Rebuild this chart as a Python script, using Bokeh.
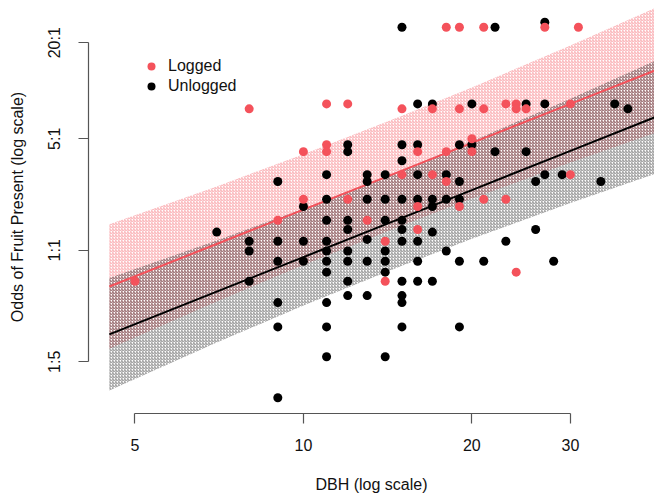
from bokeh.plotting import figure
from bokeh.models import FixedTicker, Legend, LegendItem
from bokeh.embed import file_html
from bokeh.resources import INLINE

# ---------------- data ----------------
logged_dbh = [5, 8, 9, 10, 10, 11, 11, 11, 12, 12, 13, 14, 14, 15, 15, 16, 16, 16,
              17, 17, 18, 18, 18, 19, 19, 19, 20, 20, 21, 21, 21, 23, 23, 24, 24, 24,
              25, 27, 30, 30, 31]
logged_odds = [0.64, 7.7, 1.54, 4.15, 2.09, 8.27, 4.59, 4.15, 8.27, 2.09, 1.54, 1.14, 0.64,
               7.7, 2.98, 4.15, 1.88, 1.35, 7.7, 2.98, 25, 4.15, 2.70, 25, 7.7, 1.88,
               5.0, 4.15, 25, 7.7, 2.09, 8.27, 2.09, 8.27, 7.7, 0.729, 7.7, 25, 8.27, 2.98, 25]

unlogged_dbh = [7, 8, 8, 8, 9, 9, 9, 9, 9, 9, 10, 10, 10,
                11, 11, 11, 11, 11, 11, 11, 11, 11, 11,
                12, 12, 12, 12, 12, 12, 12, 12,
                13, 13, 13, 13, 13, 13,
                14, 14, 14, 14, 14, 14, 14,
                15, 15, 15, 15, 15, 15, 15, 15, 15, 15, 15,
                16, 16, 16, 16, 16, 16, 16,
                17, 17, 17, 17, 17,
                18, 18, 18,
                19, 19, 19, 19, 19,
                20, 20, 21, 22, 22, 23, 25, 25, 26, 26, 27, 27, 27, 28, 29, 34, 36, 38]
unlogged_odds = [1.30, 1.14, 0.99, 0.64, 2.70, 1.14, 0.854, 0.47, 0.331, 0.119, 1.88, 1.14, 0.854,
                 2.98, 2.09, 1.54, 1.14, 0.99, 0.854, 0.729, 0.47, 0.331, 0.215,
                 4.59, 4.15, 1.54, 1.35, 0.99, 0.854, 0.64, 0.52,
                 2.98, 2.70, 2.09, 1.17, 0.854, 0.52,
                 2.98, 2.09, 1.54, 0.99, 0.854, 0.729, 0.215,
                 25, 4.59, 3.64, 2.09, 1.54, 1.35, 1.14, 0.64, 0.52, 0.47, 0.331,
                 8.27, 4.59, 2.98, 2.09, 1.14, 0.854, 0.64,
                 8.27, 2.09, 1.88, 1.30, 0.64,
                 2.98, 2.09, 0.99,
                 4.59, 2.70, 2.09, 0.854, 0.331,
                 8.27, 4.59, 0.854, 25, 4.15, 1.14, 8.27, 4.15, 2.70, 1.35, 26.9, 8.27, 2.98, 0.854, 2.98,
                 2.70, 8.27, 7.7]

# fitted curves and confidence bands (odds)
fit_dbh = [4.5, 7, 10, 15, 20, 30, 43]
logged_fit = [0.593, 1.095, 1.797, 3.156, 4.71, 8.27, 13.63]
logged_upper = [1.457, 2.515, 4.0, 6.96, 10.5, 19.2, 33.6]
logged_lower = [0.241, 0.477, 0.808, 1.431, 2.108, 3.55, 5.52]
unlogged_fit = [0.297, 0.551, 0.906, 1.595, 2.385, 4.20, 6.94]
unlogged_upper = [0.671, 1.151, 1.823, 3.18, 4.83, 8.92, 15.7]
unlogged_lower = [0.132, 0.264, 0.450, 0.799, 1.179, 1.979, 3.06]

x_ticks = [5, 10, 20, 30]
y_ticks = [0.2, 1, 5, 20]
y_tick_labels = ["1:5", "1:1", "5:1", "20:1"]

RED = "#F4525B"
FONT = "Liberation Sans"

p = figure(width=654, height=495, x_axis_type="log", y_axis_type="log",
           x_range=(4.13, 42.4), y_range=(0.0948, 36.8),
           output_backend="svg", toolbar_location=None,
           min_border_left=88, min_border_bottom=80, min_border_top=0, min_border_right=0)
p.outline_line_color = None
p.grid.visible = False
p.background_fill_color = "white"

# bands
p.patch(fit_dbh + fit_dbh[::-1], logged_upper + logged_lower[::-1],
        fill_alpha=0, line_alpha=0, hatch_pattern="/", hatch_color=RED,
        hatch_alpha=0.5, hatch_scale=3, hatch_weight=1)
p.patch(fit_dbh + fit_dbh[::-1], unlogged_upper + unlogged_lower[::-1],
        fill_alpha=0, line_alpha=0, hatch_pattern="/", hatch_color="#1a1a1a",
        hatch_alpha=0.5, hatch_scale=3, hatch_weight=1)

# fit lines
p.line(fit_dbh, logged_fit, line_color=RED, line_width=2)
p.line(fit_dbh, unlogged_fit, line_color="black", line_width=2)

# points
r_black = p.scatter(unlogged_dbh, unlogged_odds, size=9, fill_color="black", line_color=None)
r_red = p.scatter(logged_dbh, logged_odds, size=9, fill_color=RED, line_color=None)

legend = Legend(items=[LegendItem(label="Logged", renderers=[r_red]),
                       LegendItem(label="Unlogged", renderers=[r_black])],
                location=(53, 317), margin=0, padding=0, spacing=0,
                glyph_width=20, glyph_height=20, label_height=20, label_standoff=7,
                label_text_font=FONT, label_text_font_size="16px", label_text_color="#111111",
                border_line_alpha=0, background_fill_alpha=0)
p.add_layout(legend)

for ax in (p.xaxis[0], p.yaxis[0]):
    ax.axis_line_color = "#555555"
    ax.axis_line_width = 1.2
    ax.major_tick_line_color = "#555555"
    ax.major_tick_line_width = 1.2
    ax.major_tick_out = 10
    ax.major_tick_in = 0
    ax.minor_tick_line_color = None
    ax.major_label_text_font = FONT
    ax.major_label_text_font_size = "16px"
    ax.major_label_text_color = "#111111"
    ax.axis_label_text_font = FONT
    ax.axis_label_text_font_size = "16px"
    ax.axis_label_text_font_style = "normal"
    ax.axis_label_text_color = "#111111"

p.xaxis.ticker = FixedTicker(ticks=x_ticks, minor_ticks=[])
p.xaxis.major_label_overrides = {t: str(t) for t in x_ticks}
p.xaxis.bounds = (x_ticks[0], x_ticks[-1])
p.xaxis.axis_label = "DBH (log scale)"
p.xaxis.major_label_standoff = 15
p.xaxis.axis_label_standoff = 22

p.yaxis.ticker = FixedTicker(ticks=y_ticks, minor_ticks=[])
p.yaxis.major_label_overrides = dict(zip(y_ticks, y_tick_labels))
p.yaxis.bounds = (y_ticks[0], y_ticks[-1])
p.yaxis.major_label_orientation = "vertical"
p.yaxis.axis_label = "Odds of Fruit Present (log scale)"
p.yaxis.major_label_standoff = 15
p.yaxis.axis_label_standoff = 18

open("out.html", "w").write(file_html(p, INLINE))
